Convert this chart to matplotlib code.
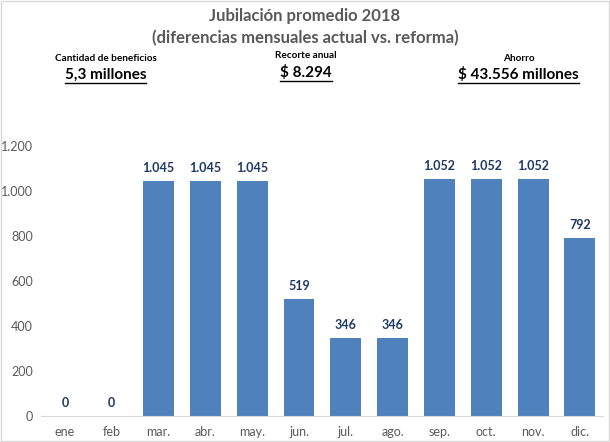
import matplotlib
matplotlib.use("Agg")
import matplotlib.pyplot as plt
from matplotlib.lines import Line2D
from matplotlib.patches import Rectangle

months = ["ene", "feb", "mar.", "abr.", "may.", "jun.", "jul.", "ago.", "sep.", "oct.", "nov.", "dic."]
values = [0, 0, 1045, 1045, 1045, 519, 346, 346, 1052, 1052, 1052, 792]
yticks = [0, 200, 400, 600, 800, 1000, 1200]
ytick_labels = ["0", "200", "400", "600", "800", "1.000", "1.200"]
title_lines = ["Jubilación promedio 2018", "(diferencias mensuales actual vs. reforma)"]
info_labels = ["Cantidad de beneficios", "Recorte anual", "Ahorro"]
info_values = ["5,3 millones", "$ 8.294", "$ 43.556 millones"]

def fmt(v):
    return f"{v:,}".replace(",", ".")

plt.rcParams['font.family'] = ['Lato', 'DejaVu Sans']

fig = plt.figure(figsize=(6.1, 4.42), dpi=100)
ax = fig.add_axes([0.068, 0.0588, 0.921, 0.611])
x = range(len(months))
ax.bar(x, values, width=0.66, color="#4F81BD")
ax.set_xlim(-0.5, len(months) - 0.5)
ax.set_ylim(0, 1200)
for s in ["top", "right", "left"]:
    ax.spines[s].set_visible(False)
ax.spines["bottom"].set_color("#D9D9D9")
ax.set_xticks(list(x))
ax.set_xticklabels(months, color="#595959", fontsize=9)
ax.set_yticks(yticks)
ax.set_yticklabels(ytick_labels, color="#595959", fontsize=9)
ax.tick_params(length=0)
ax.tick_params(axis="y", pad=6)
ax.tick_params(axis="x", pad=7)
for xi, v in zip(x, values):
    ax.annotate(fmt(v), (xi, v), xytext=(0, 5), textcoords="offset points",
                ha="center", va="bottom", fontsize=9, fontweight="bold", color="#1F3864")

fig.text(0.5, 0.963, title_lines[0], ha="center", va="center", fontsize=12,
         fontweight="bold", color="#595959")
fig.text(0.5, 0.914, title_lines[1], ha="center", va="center", fontsize=12,
         fontweight="bold", color="#595959")

lab_pos = [(106 / 610, 0.868), (306 / 610, 0.874), (519 / 610, 0.868)]
val_pos = [(105.5 / 610, 0.830), (306 / 610, 0.835), (518.5 / 610, 0.832)]
val_texts = []
for (lx, ly), (vx, vy), lt, vt in zip(lab_pos, val_pos, info_labels, info_values):
    fig.text(lx, ly, lt, ha="center", va="center", fontsize=7.2, fontweight="bold", color="black")
    t = fig.text(vx, vy, vt, ha="center", va="center", fontsize=11, fontweight="bold", color="black")
    val_texts.append(t)

fig.canvas.draw()
r = fig.canvas.get_renderer()
W, H = fig.bbox.width, fig.bbox.height
for t in val_texts:
    bb = t.get_window_extent(r)
    yl = (bb.y0 - 1) / H
    fig.add_artist(Line2D([bb.x0 / W, bb.x1 / W], [yl, yl], color="black", lw=1.0,
                          transform=fig.transFigure))

fig.add_artist(Rectangle((0.002, 0.003), 0.996, 0.994, fill=False, ec="#D9D9D9", lw=1,
                         transform=fig.transFigure))
fig.savefig("out.png", dpi=100)
